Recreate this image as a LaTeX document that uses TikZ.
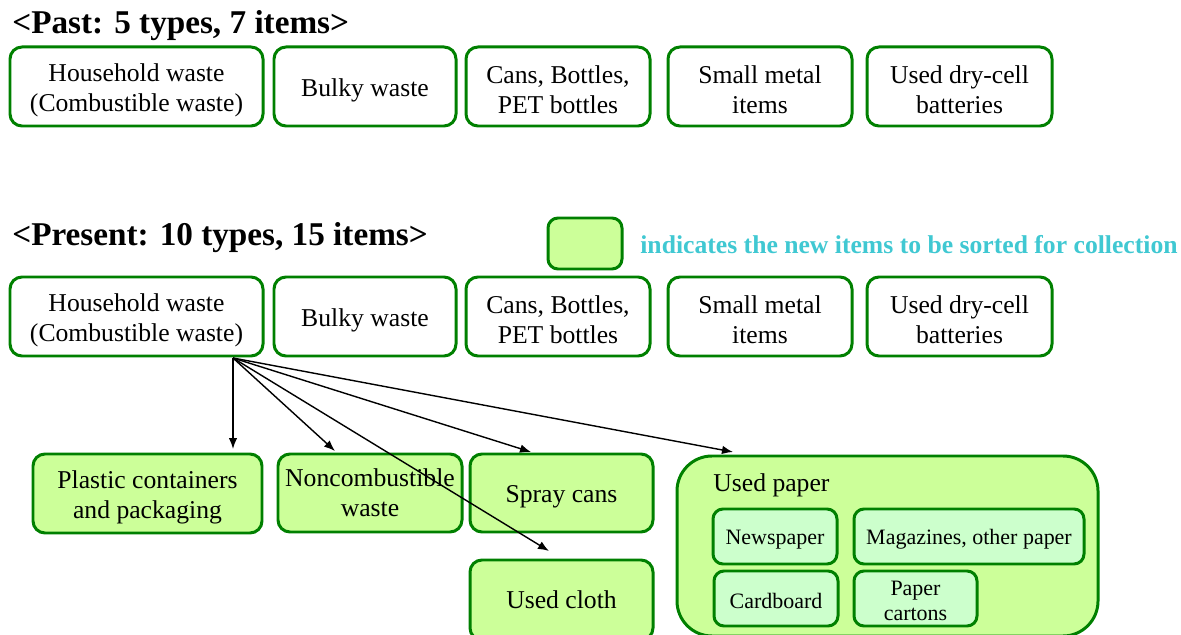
\documentclass[tikz,border=0pt]{standalone}
\usepackage{fontspec}
\setmainfont{Liberation Serif}
\usetikzlibrary{arrows.meta}
\definecolor{boxgreen}{RGB}{0,128,0}
\definecolor{newfill}{RGB}{204,255,153}
\definecolor{subfill}{RGB}{204,255,204}
\definecolor{notecyan}{RGB}{64,200,210}
\begin{document}
\begin{tikzpicture}[x=0.2mm,y=-0.2mm]
\tikzset{
  wastebox/.style={draw=boxgreen,line width=1.7pt,rounded corners=2.4mm,align=center,
    inner sep=0pt,font=\fontsize{14.6}{17}\selectfont,minimum height=15.8mm,text height=14.2pt},
  twoline/.style={text height=31.2pt},
  newbox/.style={wastebox,fill=newfill},
  subbox/.style={draw=boxgreen,line width=1.7pt,rounded corners=2mm,fill=subfill,align=center,
    inner sep=0pt,font=\fontsize{12.5}{14.2}\selectfont,minimum width=24.8mm,minimum height=11mm,
    text height=11.4pt},
  heading/.style={anchor=base west,inner sep=0pt,font=\fontsize{18.9}{22}\selectfont\bfseries},
  sortarrow/.style={-{Latex[length=2.2mm,width=1.7mm]},line width=0.8pt}
}
\clip (0,0) rectangle (1181,635);
% past
\node [heading] (pasttitle) at (12,34) {<Past: 5 types, 7 items>};
\node [wastebox,twoline,minimum width=50.6mm] (hh1) at (136.5,86.5) {Household waste\\(Combustible waste)};
\node [wastebox,minimum width=36.4mm] (bulky1) at (365,86.5) {Bulky waste};
\node [wastebox,twoline,minimum width=36.8mm] (cans1) at (558,86.5) {Cans, Bottles,\\PET bottles};
\node [wastebox,twoline,minimum width=36.8mm] (metal1) at (760,86.5) {Small metal\\items};
\node [wastebox,twoline,minimum width=37mm] (batt1) at (959.5,86.5) {Used dry-cell\\batteries};
% present
\node [heading] (presenttitle) at (12,246) {<Present: 10 types, 15 items>};
\node [newbox,minimum width=14.8mm,minimum height=10.2mm,rounded corners=2mm] (legend) at (585,243.5) {};
\node [anchor=base west,inner sep=0pt,text=notecyan,font=\fontsize{14.6}{17}\selectfont\bfseries] (legendtext) at (640,254) {indicates the new items to be sorted for collection};
\node [wastebox,twoline,minimum width=50.6mm] (hh2) at (136.5,316.5) {Household waste\\(Combustible waste)};
\node [wastebox,minimum width=36.4mm] (bulky2) at (365,316.5) {Bulky waste};
\node [wastebox,twoline,minimum width=36.8mm] (cans2) at (558,316.5) {Cans, Bottles,\\PET bottles};
\node [wastebox,twoline,minimum width=36.8mm] (metal2) at (760,316.5) {Small metal\\items};
\node [wastebox,twoline,minimum width=37mm] (batt2) at (959.5,316.5) {Used dry-cell\\batteries};
% new items
\node [newbox,twoline,minimum width=45.8mm] (plastic) at (147.5,493.5) {Plastic containers\\and packaging};
\node [newbox,minimum width=36.8mm,minimum height=15.6mm,text height={}] (noncomb) at (370,493) {Noncombustible\\waste};
\node [newbox,minimum width=36.6mm,minimum height=15.6mm] (spray) at (561.5,493) {Spray cans};
\node [newbox,minimum width=36.6mm,minimum height=16mm,text height={}] (cloth) at (561.5,600) {Used cloth};
\node [newbox,minimum width=84.2mm,minimum height=36mm,rounded corners=7mm] (paper) at (887.5,546) {};
\node [anchor=base west,inner sep=0pt,font=\fontsize{14.6}{17}\selectfont] (paperlabel) at (713,491) {Used paper};
\node [subbox] (news) at (775,536.5) {Newspaper};
\node [subbox,minimum width=46mm] (mags) at (969,536.5) {Magazines, other paper};
\node [subbox] (cardboard) at (776,598.5) {Cardboard};
\node [subbox,minimum width=24.6mm,text height=25.5pt] (cartons) at (915.5,598.5) {Paper\\cartons};
% arrows
\coordinate (fork) at (233,358);
\coordinate (toplastic) at (233,449);
\coordinate (tononcomb) at (335,451);
\coordinate (tospray) at (531,452);
\coordinate (tocloth) at (549,551);
\coordinate (topaper) at (733,452);
\draw [sortarrow] (fork) -- (toplastic);
\draw [sortarrow] (fork) -- (tononcomb);
\draw [sortarrow] (fork) -- (tospray);
\draw [sortarrow] (fork) -- (tocloth);
\draw [sortarrow] (fork) -- (topaper);
\end{tikzpicture}
\end{document}
